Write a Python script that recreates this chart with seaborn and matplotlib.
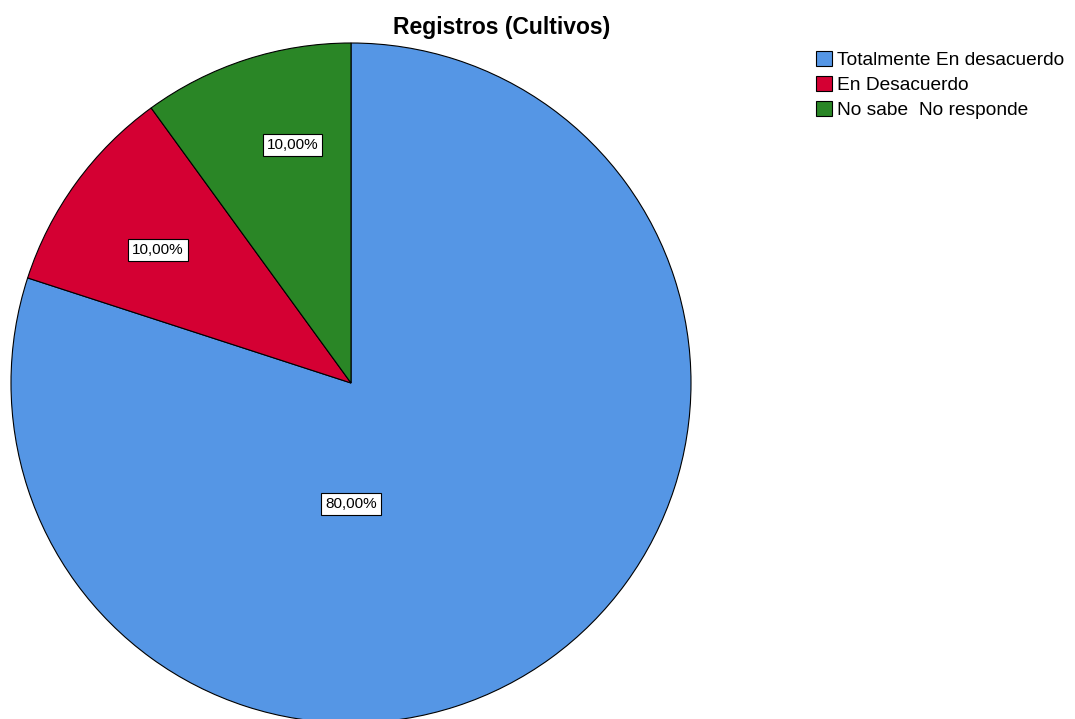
import matplotlib
matplotlib.use('Agg')
import matplotlib.pyplot as plt
import seaborn as sns
from matplotlib.patches import Patch

categorias = ['Totalmente En desacuerdo', 'En Desacuerdo', 'No sabe  No responde']
porcentajes = [80.0, 10.0, 10.0]
colores = ['#5596e5', '#d40033', '#2a8626']
titulo = 'Registros (Cultivos)'

sns.set_theme(style='white')
plt.rcParams['font.family'] = ['Liberation Sans', 'DejaVu Sans']
plt.rcParams['text.color'] = 'black'

fig = plt.figure(figsize=(10.75, 7.19), dpi=100)
ax = fig.add_axes([11 / 1075, -4 / 719, 680 / 1075, 680 / 719])

wedges, textos, pcts = ax.pie(porcentajes, colors=colores, startangle=90, counterclock=False,
                              radius=1, autopct=lambda p: f'{p:.2f}%'.replace('.', ','),
                              pctdistance=0.6,
                              wedgeprops={'edgecolor': 'black', 'linewidth': 0.8})
ax.set_xlim(-1, 1)
ax.set_ylim(-1, 1)
ax.set_aspect('auto')
ax.axis('off')

# SPSS puts the labels where they fit, not on the mid angle
pos_etiquetas = [(0.0, -0.356), (-0.568, 0.391), (-0.171, 0.70)]
for t, (x, y) in zip(pcts, pos_etiquetas):
    t.set_position((x, y))
    t.set_fontsize(11)
    t.set_color('black')
    t.set_bbox({'facecolor': 'white', 'edgecolor': 'black', 'linewidth': 0.8,
                'boxstyle': 'square,pad=0.25'})

fig.text(0.467, 0.962, titulo, ha='center', va='center', fontsize=16.5, fontweight='bold',
         color='black')

handles = [Patch(facecolor=c, edgecolor='black', linewidth=0.8) for c in colores]
fig.legend(handles, categorias, loc='upper left', bbox_to_anchor=(816 / 1075, 1 - 51 / 719),
           frameon=False, fontsize=13.8, handlelength=0.85, handleheight=0.85,
           handletextpad=0.25, labelspacing=0.34, borderaxespad=0, borderpad=0,
           labelcolor='black')

fig.savefig('out.png', dpi=100)
